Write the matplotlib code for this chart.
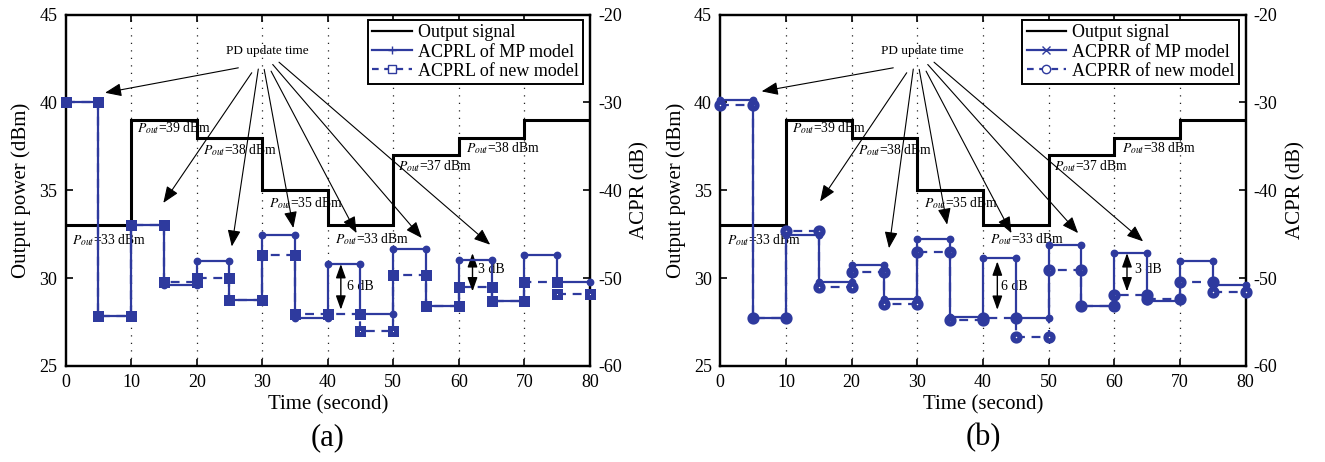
import matplotlib
matplotlib.use("Agg")
import matplotlib.pyplot as plt
from matplotlib.lines import Line2D

plt.rcParams["font.family"] = ["Liberation Serif", "DejaVu Serif"]
plt.rcParams["mathtext.fontset"] = "stix"
plt.rcParams["axes.unicode_minus"] = False

# ---- data -------------------------------------------------------------
# Output power of the PA, one level per 10 s
power_edges = [0, 10, 20, 30, 40, 50, 60, 70, 80]
output_power = [33, 39, 38, 35, 33, 37, 38, 39]          # dBm

# ACPR measured in 5 s windows
seg_start = [0, 5, 10, 15, 20, 25, 30, 35, 40, 45, 50, 55, 60, 65, 70, 75]
seg_len = 5
acprl_mp = [-30.0, -54.3, -44.0, -50.8, -48.0, -52.5, -45.1, -54.5,
            -48.4, -54.1, -46.7, -53.2, -47.9, -52.6, -47.4, -50.5]
acprl_new = [-30.0, -54.3, -44.0, -50.4, -50.0, -52.5, -47.4, -54.1,
             -54.1, -56.0, -49.7, -53.2, -51.0, -52.6, -50.4, -51.8]
acprr_mp = [-29.7, -54.5, -45.1, -50.5, -48.5, -52.4, -45.5, -54.4,
            -47.7, -54.6, -46.2, -53.2, -47.1, -52.6, -48.0, -50.8]
acprr_new = [-30.3, -54.5, -44.6, -51.0, -49.3, -53.0, -47.0, -54.8,
             -54.6, -56.7, -49.1, -53.2, -51.9, -52.4, -50.5, -51.6]

time_ticks = [0, 10, 20, 30, 40, 50, 60, 70, 80]
power_ticks = [25, 30, 35, 40, 45]
acpr_ticks = [-60, -50, -40, -30, -20]

BLUE = "#2E3A9E"


def window_steps(values):
    xs, ys = [], []
    for t0, v in zip(seg_start, values):
        xs += [t0, t0 + seg_len]
        ys += [v, v]
    return xs, ys


fig = plt.figure(figsize=(13.25, 4.62), dpi=100)

panels = [
    dict(rect=[0.0496, 0.208, 0.3955, 0.7604], tag="(a)", name="ACPRL",
         mp=acprl_mp, new=acprl_new, new_marker="s", mp_leg_marker="+",
         new_ms=5.0, new_mew=3.6,
         tips=[(6.0, 40.55), (14.9, 34.28), (25.35, 31.8), (34.75, 32.85),
               (44.4, 32.56), (54.35, 32.28), (64.8, 31.9)],
         six=(42.0, 30.8, 28.2, 42.9), three=(62.1, 31.42, 29.24, 63.0)),
    dict(rect=[0.5436, 0.208, 0.3964, 0.7604], tag="(b)", name="ACPRR",
         mp=acprr_mp, new=acprr_new, new_marker="o", mp_leg_marker="x",
         new_ms=5.0, new_mew=3.8,
         tips=[(6.3, 40.63), (15.2, 34.36), (25.7, 31.7), (34.55, 33.04),
               (44.35, 32.56), (54.5, 32.56), (64.4, 32.09)],
         six=(42.2, 30.95, 28.19, 42.75), three=(61.95, 31.42, 29.24, 63.1)),
]

arrow_starts = [(26.35, 41.97), (28.4, 41.69), (29.4, 41.9), (30.3, 41.88),
                (31.35, 41.78), (31.6, 42.16), (32.56, 42.29)]
pout_pos = [(1.0, 32.18), (10.95, 38.55), (21.0, 37.3), (31.05, 34.28),
            (41.1, 32.2), (50.8, 36.36), (61.15, 37.4)]

head = dict(arrowstyle="-|>,head_length=0.5,head_width=0.2",
            color="black", lw=0.8, mutation_scale=20, shrinkA=0, shrinkB=0)
dhead = dict(arrowstyle="<|-|>,head_length=0.42,head_width=0.15",
             color="black", lw=1.0, mutation_scale=20, shrinkA=0, shrinkB=0)

for p in panels:
    ax = fig.add_axes(p["rect"])
    ax2 = ax.twinx()

    # output power staircase
    ax.stairs(output_power, power_edges, baseline=None, color="black", lw=2.2,
              zorder=3)
    ax.set_xlim(0, 80)
    ax.set_ylim(25, 45)
    ax.set_xticks(time_ticks)
    ax.set_yticks(power_ticks)
    for t in time_ticks[1:-1]:
        ax.axvline(t, color="#222222", lw=0.9, ls=(0, (1, 5)), zorder=1)

    # ACPR curves
    xs, ys = window_steps(p["new"])
    ax2.plot(xs, ys, color=BLUE, lw=1.6, ls=(0, (4, 3)), marker=p["new_marker"],
             ms=p["new_ms"], mfc="white", mec=BLUE, mew=p["new_mew"], zorder=4,
             clip_on=False)
    xs, ys = window_steps(p["mp"])
    ax2.plot(xs, ys, color=BLUE, lw=1.6, marker="o", ms=4.6, mfc=BLUE,
             mec=BLUE, zorder=5, clip_on=False)
    ax2.set_ylim(-60, -20)
    ax2.set_yticks(acpr_ticks)

    # axes styling
    for a in (ax, ax2):
        for s in a.spines.values():
            s.set_linewidth(1.6)
        a.tick_params(direction="in", length=5, width=1.2, labelsize=13, pad=6)
    ax.tick_params(axis="x", top=True, bottom=True)
    ax.tick_params(axis="y", left=True, right=False)
    ax2.tick_params(axis="y", left=False, right=True)
    ax.set_xlabel("Time (second)", fontsize=15, labelpad=3)
    ax.set_ylabel("Output power (dBm)", fontsize=15, labelpad=6)
    ax2.set_ylabel("ACPR (dB)", fontsize=15, labelpad=6)

    # annotations
    ax.text(30.7, 42.95, "PD update time", fontsize=9.5, ha="center",
            va="center", zorder=6)
    for st, tp in zip(arrow_starts, p["tips"]):
        ax.annotate("", xy=tp, xytext=st, arrowprops=head, zorder=6)
    for (tx, ty), v in zip(pout_pos, output_power[:len(pout_pos)]):
        ax.text(tx, ty, rf"$P_{{out}}$={v:g} dBm", fontsize=9.8, ha="left",
                va="center", zorder=6)

    x6, y6a, y6b, t6 = p["six"]
    ax.annotate("", xy=(x6, y6b), xytext=(x6, y6a), arrowprops=dhead, zorder=6)
    ax.text(t6, 29.5, "6 dB", fontsize=10, ha="left", va="center", zorder=6)
    x3, y3a, y3b, t3 = p["three"]
    ax.annotate("", xy=(x3, y3b), xytext=(x3, y3a), arrowprops=dhead, zorder=6)
    ax.text(t3, 30.47, "3 dB", fontsize=10, ha="left", va="center", zorder=6)

    ax2.set_zorder(ax.get_zorder() + 1)

    handles = [
        Line2D([], [], color="black", lw=1.6),
        Line2D([], [], color=BLUE, lw=1.6, marker=p["mp_leg_marker"], ms=6,
               mew=1.0),
        Line2D([], [], color=BLUE, lw=1.6, ls=(0, (3, 2.5)),
               marker=p["new_marker"], ms=6, mfc="white", mec=BLUE, mew=1.0),
    ]
    labels = ["Output signal", f"{p['name']} of MP model",
              f"{p['name']} of new model"]
    leg = ax2.legend(handles, labels, loc="upper right",
                     bbox_to_anchor=(0.987, 0.985), fontsize=13,
                     frameon=True, fancybox=False, framealpha=1,
                     edgecolor="black", handlelength=2.2, handletextpad=0.3,
                     labelspacing=0.12, borderpad=0.25, borderaxespad=0.0)
    leg.get_frame().set_linewidth(1.4)

    cx = p["rect"][0] + p["rect"][2] / 2
    fig.text(cx, 0.052, p["tag"], fontsize=22, ha="center", va="center")

fig.savefig("out.png", dpi=100)
